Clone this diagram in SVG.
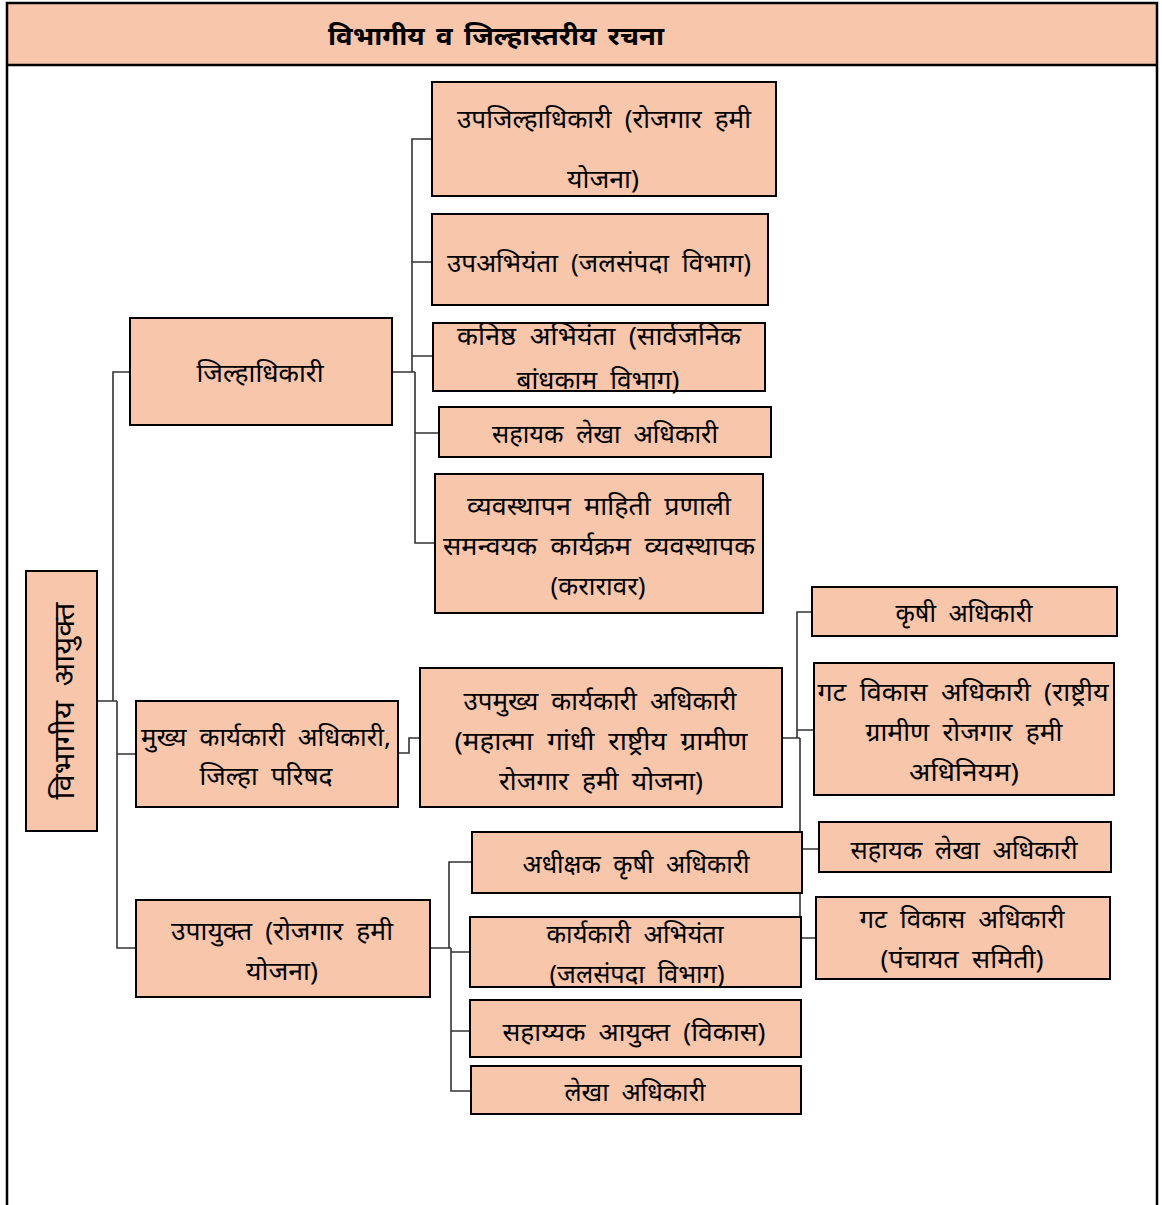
<svg xmlns="http://www.w3.org/2000/svg" width="1162" height="1205" viewBox="0 0 1162 1205">
  <style>
    .box { fill: #F7C6AB; stroke: #000; stroke-width: 2; }
    .frame { fill: none; stroke: #000; stroke-width: 2.5; }
    .lbl { font-family: "Noto Sans", "Lohit Devanagari", "FreeSans", sans-serif; font-size: 25px; fill: #000; text-anchor: middle; dominant-baseline: central; word-spacing: 6px; }
    .title { font-family: "Noto Sans", "Lohit Devanagari", "FreeSans", sans-serif; font-size: 26px; font-weight: bold; fill: #000; text-anchor: middle; dominant-baseline: central; word-spacing: 4px; }
    .conn { fill: none; stroke: #333; stroke-width: 1.6; }
  </style>

  <!-- page frame with shaded heading band -->
  <g id="frame">
    <rect x="7" y="3" width="1150" height="62" fill="#F7C6AB" stroke="none"/>
    <path class="frame" d="M7 1205 V3 H1157 V1205"/>
    <line class="frame" x1="7" y1="65" x2="1157" y2="65"/>
    <text class="title" x="496" y="35" textLength="336" lengthAdjust="spacingAndGlyphs">विभागीय व जिल्हास्तरीय रचना</text>
  </g>

  <!-- connectors -->
  <g id="connectors">
    <!-- divisional commissioner to three branches -->
    <path class="conn" d="M97 701 H117 M113 701 V372 H130 M117 701 V948 H136 M117 754 H136"/>
    <!-- collector to five posts -->
    <path class="conn" d="M392 372 H415 M412 372 V139 H432 M412 262 H432 M412 356 H433 M415 372 V543 H435 M415 433 H439"/>
    <!-- CEO zilla parishad to deputy CEO -->
    <path class="conn" d="M398 753 H409 V738 H420"/>
    <!-- deputy CEO to four posts -->
    <path class="conn" d="M782 738 H800 M797 738 V612 H812 M797 730 H814 M800 738 V938 H816 M800 849 H819"/>
    <!-- deputy commissioner to four posts -->
    <path class="conn" d="M430 948 H451 M449 948 V862 H472 M451 948 V1091 H471 M451 952 H470 M451 1031 H470"/>
  </g>

  <g id="n-commissioner">
    <rect class="box" x="26" y="571" width="71" height="260"/>
    <text class="lbl" style="font-size:29px" transform="translate(62 701) rotate(-90)" textLength="197" lengthAdjust="spacingAndGlyphs">विभागीय आयुक्त</text>
  </g>

  <g id="n-collector">
    <rect class="box" x="130" y="318" width="262" height="107"/>
    <text class="lbl" x="260" y="372" textLength="127" lengthAdjust="spacingAndGlyphs">जिल्हाधिकारी</text>
  </g>

  <g id="n-ceo">
    <rect class="box" x="136" y="701" width="262" height="106"/>
    <text class="lbl" x="266" y="736" textLength="250" lengthAdjust="spacingAndGlyphs">मुख्य कार्यकारी अधिकारी,</text>
    <text class="lbl" x="266" y="775" textLength="133" lengthAdjust="spacingAndGlyphs">जिल्हा परिषद</text>
  </g>

  <g id="n-deputy-commissioner">
    <rect class="box" x="136" y="900" width="294" height="97"/>
    <text class="lbl" x="282" y="930" textLength="222" lengthAdjust="spacingAndGlyphs">उपायुक्त (रोजगार हमी</text>
    <text class="lbl" x="282" y="970" textLength="72" lengthAdjust="spacingAndGlyphs">योजना)</text>
  </g>

  <g id="n-sdo">
    <rect class="box" x="432" y="82" width="344" height="114"/>
    <text class="lbl" x="604" y="118" textLength="294" lengthAdjust="spacingAndGlyphs">उपजिल्हाधिकारी (रोजगार हमी</text>
    <text class="lbl" x="603" y="178" textLength="72" lengthAdjust="spacingAndGlyphs">योजना)</text>
  </g>

  <g id="n-deputy-engineer">
    <rect class="box" x="432" y="214" width="336" height="91"/>
    <text class="lbl" x="599" y="262" textLength="304" lengthAdjust="spacingAndGlyphs">उपअभियंता (जलसंपदा विभाग)</text>
  </g>

  <g id="n-junior-engineer">
    <rect class="box" x="433" y="323" width="332" height="68"/>
    <text class="lbl" x="599" y="335" textLength="284" lengthAdjust="spacingAndGlyphs">कनिष्ठ अभियंता (सार्वजनिक</text>
    <text class="lbl" x="598" y="379" textLength="163" lengthAdjust="spacingAndGlyphs">बांधकाम विभाग)</text>
  </g>

  <g id="n-asst-accounts-1">
    <rect class="box" x="439" y="407" width="332" height="50"/>
    <text class="lbl" x="605" y="433" textLength="226" lengthAdjust="spacingAndGlyphs">सहायक लेखा अधिकारी</text>
  </g>

  <g id="n-mis">
    <rect class="box" x="435" y="474" width="328" height="139"/>
    <text class="lbl" x="599" y="505" textLength="264" lengthAdjust="spacingAndGlyphs">व्यवस्थापन माहिती प्रणाली</text>
    <text class="lbl" x="599" y="545" textLength="312" lengthAdjust="spacingAndGlyphs">समन्वयक कार्यक्रम व्यवस्थापक</text>
    <text class="lbl" x="598" y="585" textLength="95" lengthAdjust="spacingAndGlyphs">(करारावर)</text>
  </g>

  <g id="n-deputy-ceo">
    <rect class="box" x="420" y="668" width="362" height="139"/>
    <text class="lbl" x="600" y="700" textLength="273" lengthAdjust="spacingAndGlyphs">उपमुख्य कार्यकारी अधिकारी</text>
    <text class="lbl" x="601" y="740" textLength="293" lengthAdjust="spacingAndGlyphs">(महात्मा गांधी राष्ट्रीय ग्रामीण</text>
    <text class="lbl" x="601" y="780" textLength="204" lengthAdjust="spacingAndGlyphs">रोजगार हमी योजना)</text>
  </g>

  <g id="n-agri-officer">
    <rect class="box" x="812" y="587" width="305" height="49"/>
    <text class="lbl" x="964" y="612" textLength="137" lengthAdjust="spacingAndGlyphs">कृषी अधिकारी</text>
  </g>

  <g id="n-bdo-nrega">
    <rect class="box" x="814" y="663" width="300" height="132"/>
    <text class="lbl" x="963" y="691" textLength="291" lengthAdjust="spacingAndGlyphs">गट विकास अधिकारी (राष्ट्रीय</text>
    <text class="lbl" x="964" y="731" textLength="197" lengthAdjust="spacingAndGlyphs">ग्रामीण रोजगार हमी</text>
    <text class="lbl" x="964" y="771" textLength="110" lengthAdjust="spacingAndGlyphs">अधिनियम)</text>
  </g>

  <g id="n-asst-accounts-2">
    <rect class="box" x="819" y="822" width="292" height="50"/>
    <text class="lbl" x="964" y="849" textLength="227" lengthAdjust="spacingAndGlyphs">सहायक लेखा अधिकारी</text>
  </g>

  <g id="n-bdo-ps">
    <rect class="box" x="816" y="897" width="294" height="82"/>
    <text class="lbl" x="962" y="918" textLength="205" lengthAdjust="spacingAndGlyphs">गट विकास अधिकारी</text>
    <text class="lbl" x="962" y="958" textLength="163" lengthAdjust="spacingAndGlyphs">(पंचायत समिती)</text>
  </g>

  <g id="n-supt-agri">
    <rect class="box" x="472" y="832" width="330" height="61"/>
    <text class="lbl" x="636" y="863" textLength="227" lengthAdjust="spacingAndGlyphs">अधीक्षक कृषी अधिकारी</text>
  </g>

  <g id="n-exec-engineer">
    <rect class="box" x="470" y="917" width="331" height="70"/>
    <text class="lbl" x="635" y="933" textLength="177" lengthAdjust="spacingAndGlyphs">कार्यकारी अभियंता</text>
    <text class="lbl" x="637" y="973" textLength="175" lengthAdjust="spacingAndGlyphs">(जलसंपदा विभाग)</text>
  </g>

  <g id="n-asst-commissioner">
    <rect class="box" x="470" y="1000" width="331" height="57"/>
    <text class="lbl" x="634" y="1031" textLength="263" lengthAdjust="spacingAndGlyphs">सहाय्यक आयुक्त (विकास)</text>
  </g>

  <g id="n-accounts">
    <rect class="box" x="471" y="1066" width="330" height="48"/>
    <text class="lbl" x="635" y="1091" textLength="141" lengthAdjust="spacingAndGlyphs">लेखा अधिकारी</text>
  </g>
</svg>
